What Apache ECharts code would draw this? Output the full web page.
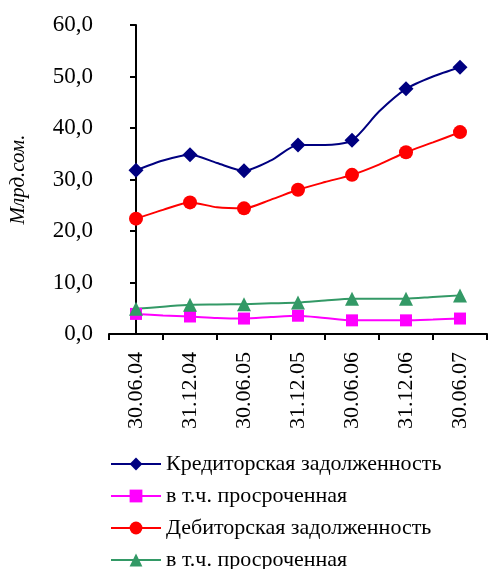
<!DOCTYPE html>
<html>
<head>
<meta charset="utf-8">
<script src="https://cdn.jsdelivr.net/npm/echarts@6/dist/echarts.min.js"></script>
<style>
  html, body { margin: 0; padding: 0; background: #fff; }
  #chart { width: 488px; height: 569px; }
</style>
</head>
<body>
<div id="chart"></div>
<script>
// half-year labels on the axis, quarterly values (every 2nd point has a marker)
var periods = ["30.06.04", "31.12.04", "30.06.05", "31.12.05", "30.06.06", "31.12.06", "30.06.07"];

var kredit = [31.8, 33.7, 34.8, 33.2, 31.7, 33.7, 36.7, 36.7, 37.6, 43.2, 47.6, 50.0, 51.8];
var kreditOverdue = [3.9, 3.6, 3.4, 3.1, 3.0, 3.3, 3.55, 3.1, 2.65, 2.65, 2.65, 2.8, 3.0];
var debit = [22.4, 24.1, 25.55, 24.6, 24.4, 26.1, 28.0, 29.5, 30.9, 32.9, 35.3, 37.2, 39.2];
var debitOverdue = [4.9, 5.3, 5.7, 5.75, 5.8, 5.95, 6.1, 6.5, 6.85, 6.85, 6.85, 7.2, 7.5];

var names = ["Кредиторская задолженность", "в т.ч. просроченная", "Дебиторская задолженность", "в т.ч. просроченная "];

var font = "'Liberation Serif', 'Times New Roman', serif";

function toPoints(arr) {
  return arr.map(function (v, i) { return [i / 2, v]; });
}

function markerSize(size) {
  return function (val, params) {
    return params.dataIndex % 2 ? 0 : size;
  };
}

function makeSeries(name, data, color, symbol, size) {
  return {
    name: name,
    type: "line",
    xAxisIndex: 1,
    smooth: 0.25,
    data: toPoints(data),
    symbol: symbol,
    symbolSize: markerSize(size),
    showAllSymbol: true,
    lineStyle: { color: color, width: 2 },
    itemStyle: { color: color },
    emphasis: { disabled: true }
  };
}

// one legend block per entry, so nothing gets wrapped into a second column
function makeLegend(i) {
  return {
    orient: "vertical",
    left: 110,
    top: 453 + i * 32,
    padding: 0,
    itemWidth: 50,
    itemHeight: 16,
    selectedMode: false,
    textStyle: { fontFamily: font, fontSize: 22, color: "#000" },
    data: [names[i]]
  };
}

var chart = echarts.init(document.getElementById("chart"));
chart.setOption({
  animation: false,
  backgroundColor: "#fff",
  grid: { left: 104, right: 1, top: 25, bottom: 235 },
  legend: names.map(function (n, i) { return makeLegend(i); }),
  xAxis: [
    {
      type: "category",
      data: periods,
      boundaryGap: true,
      axisLine: { lineStyle: { color: "#000", width: 2 } },
      axisTick: { show: true, interval: 0, length: 6, lineStyle: { color: "#000", width: 2 } },
      axisLabel: { rotate: 90, interval: 0, margin: 18, fontFamily: font, fontSize: 22, color: "#000" },
      splitLine: { show: false }
    },
    {
      type: "value",
      min: -0.5,
      max: 6.5,
      show: false
    }
  ],
  yAxis: {
    type: "value",
    min: 0,
    max: 60,
    interval: 10,
    name: "Млрд.сом.",
    nameLocation: "middle",
    nameGap: 80,
    nameTextStyle: { fontFamily: font, fontSize: 21, fontStyle: "italic", color: "#000" },
    axisLine: { show: true, lineStyle: { color: "#000", width: 2 } },
    axisTick: { show: true, length: 6, lineStyle: { color: "#000", width: 2 } },
    axisLabel: {
      margin: 16,
      fontFamily: font,
      fontSize: 23,
      color: "#000",
      formatter: function (v) { return v.toFixed(1).replace(".", ","); }
    },
    splitLine: { show: false }
  },
  series: [
    makeSeries(names[0], kredit, "#000080", "diamond", 15),
    makeSeries(names[1], kreditOverdue, "#FF00FF", "rect", 12),
    makeSeries(names[2], debit, "#FF0000", "circle", 14),
    makeSeries(names[3], debitOverdue, "#339966", "triangle", 14)
  ]
});
</script>
</body>
</html>
